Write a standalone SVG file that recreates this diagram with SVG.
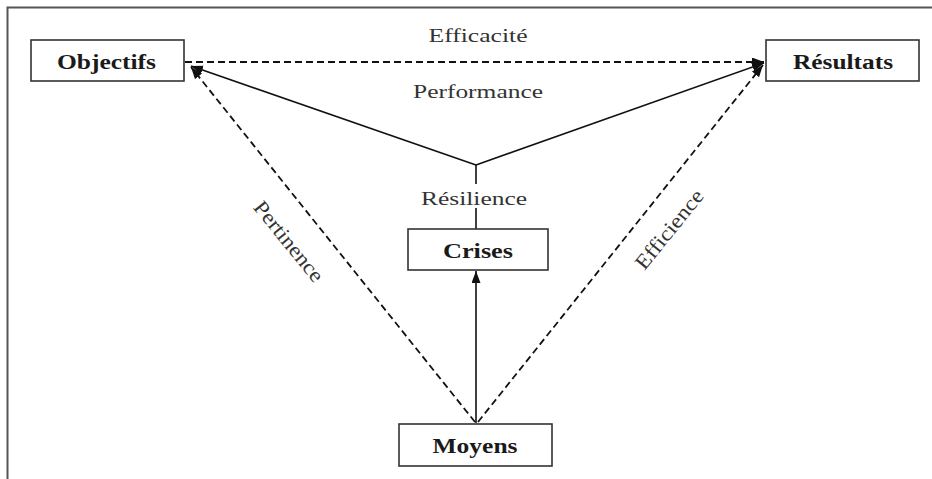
<svg xmlns="http://www.w3.org/2000/svg" width="932" height="479" viewBox="0 0 932 479">
<defs>
<marker id="ah" markerUnits="userSpaceOnUse" markerWidth="13" markerHeight="10" refX="12" refY="4.5" orient="auto">
<path d="M0,0 L12,4.5 L0,9 z" fill="#111"/>
</marker>
<style>
.box{fill:#fff;stroke:#333;stroke-width:1.6}
.bl{font-family:"Liberation Serif","Times New Roman",serif;font-weight:bold;font-size:20px;fill:#1a1a1a;text-anchor:middle}
.lb{font-family:"Liberation Serif","Times New Roman",serif;font-size:19.5px;fill:#333;text-anchor:middle}
.rot{font-size:21px}
.solid{stroke:#111;stroke-width:1.6;fill:none}
.dash{stroke:#111;stroke-width:1.8;fill:none;stroke-dasharray:7 4}
</style>
</defs>
<rect width="932" height="479" fill="#fff"/>
<path d="M932,7.5 H7.5 V479" fill="none" stroke="#555" stroke-width="2"/>

<g id="connectors">
<line class="dash" x1="185" y1="62" x2="764" y2="62" marker-end="url(#ah)"/>
<line class="solid" x1="476" y1="165" x2="191" y2="66" marker-end="url(#ah)"/>
<line class="solid" x1="476" y1="165" x2="764" y2="63" marker-end="url(#ah)"/>
<line class="solid" x1="476" y1="165" x2="476" y2="184"/>
<line class="solid" x1="476" y1="208" x2="476" y2="229"/>
<line class="solid" x1="476" y1="423" x2="476" y2="271" marker-end="url(#ah)"/>
<line class="dash" x1="475" y1="422" x2="191" y2="67" marker-end="url(#ah)"/>
<line class="dash" x1="478" y1="422" x2="763" y2="65" marker-end="url(#ah)"/>
<text class="lb" x="478" y="42" textLength="99" lengthAdjust="spacingAndGlyphs">Efficacité</text>
<text class="lb" x="478" y="98" textLength="130" lengthAdjust="spacingAndGlyphs">Performance</text>
<text class="lb" x="474" y="205" textLength="106" lengthAdjust="spacingAndGlyphs">Résilience</text>
<text class="lb rot" transform="translate(288,242) rotate(51)" x="0" y="6" textLength="98" lengthAdjust="spacingAndGlyphs">Pertinence</text>
<text class="lb rot" transform="translate(670,230) rotate(-51)" x="0" y="6" textLength="96" lengthAdjust="spacingAndGlyphs">Efficience</text>
</g>

<g id="objectifs">
<rect class="box" x="31" y="40" width="153" height="41"/>
<text class="bl" x="106.5" y="69" textLength="99" lengthAdjust="spacingAndGlyphs">Objectifs</text>
</g>
<g id="resultats">
<rect class="box" x="766" y="40" width="153" height="41"/>
<text class="bl" x="843" y="69" textLength="100" lengthAdjust="spacingAndGlyphs">Résultats</text>
</g>
<g id="crises">
<rect class="box" x="408" y="229" width="140" height="41"/>
<text class="bl" x="478" y="258" textLength="70" lengthAdjust="spacingAndGlyphs">Crises</text>
</g>
<g id="moyens">
<rect class="box" x="399" y="424" width="153" height="42"/>
<text class="bl" x="475" y="453" textLength="85" lengthAdjust="spacingAndGlyphs">Moyens</text>
</g>
</svg>
